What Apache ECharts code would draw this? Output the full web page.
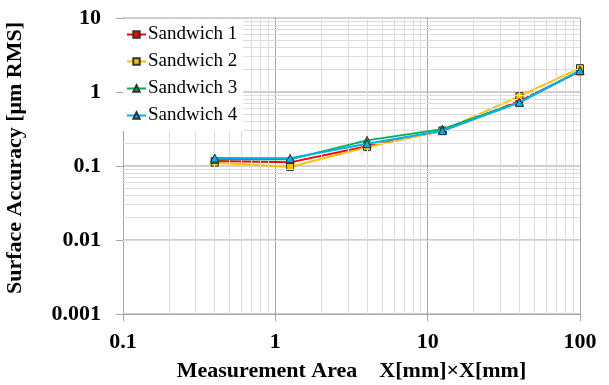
<!DOCTYPE html>
<html>
<head>
<meta charset="utf-8">
<script src="https://cdn.jsdelivr.net/npm/echarts@6/dist/echarts.min.js"></script>
<style>
  html, body { margin: 0; padding: 0; background: #ffffff; }
  #chart { width: 609px; height: 385px; }
</style>
</head>
<body>
<div id="chart"></div>
<script>
// Measurement area side length X (mm) for each measurement
const areaX = [0.4, 1.25, 4, 12.5, 40, 100];

// Surface accuracy (µm RMS) per sandwich panel
const sandwich1 = [0.117, 0.112, 0.185, 0.300, 0.75, 1.90];
const sandwich2 = [0.111, 0.097, 0.180, 0.300, 0.88, 2.10];
const sandwich3 = [0.123, 0.123, 0.222, 0.315, 0.73, 1.95];
const sandwich4 = [0.128, 0.127, 0.200, 0.300, 0.72, 1.95];

const seriesNames = ['Sandwich 1', 'Sandwich 2', 'Sandwich 3', 'Sandwich 4'];
const seriesColors = ['#FF0000', '#FFC000', '#00B050', '#00B0F0'];
const seriesSymbols = ['rect', 'rect', 'triangle', 'triangle'];

// Intermediate (minor) grid values on each log axis
const xMinor = [0.2, 0.3, 0.4, 0.5, 0.6, 0.7, 0.8, 0.9,
                2, 3, 4, 5, 6, 7, 8, 9,
                20, 30, 40, 50, 60, 70, 80, 90];
const yMinor = [0.002, 0.003, 0.004, 0.005, 0.006, 0.007, 0.008, 0.009,
                0.02, 0.03, 0.04, 0.05, 0.06, 0.07, 0.08, 0.09,
                0.2, 0.3, 0.4, 0.5, 0.6, 0.7, 0.8, 0.9,
                2, 3, 4, 5, 6, 7, 8, 9];

const serif = "'Liberation Serif', 'Times New Roman', serif";

function fmtLog(v) {
  return String(parseFloat(Number(v).toPrecision(6)));
}

const dataSets = [sandwich1, sandwich2, sandwich3, sandwich4];

const lineSeries = dataSets.map((vals, i) => ({
  name: seriesNames[i],
  type: 'line',
  z: 3 + i,
  data: areaX.map((x, k) => [x, vals[k]]),
  symbol: seriesSymbols[i],
  symbolSize: seriesSymbols[i] === 'rect' ? 7 : 8,
  showSymbol: true,
  lineStyle: { color: seriesColors[i], width: 2 },
  itemStyle: { color: seriesColors[i], borderColor: '#333333', borderWidth: 1 },
  emphasis: { disabled: true },
  animation: false
}));

const minorGrid = {
  name: 'minor-grid',
  type: 'line',
  z: 1,
  data: [[1, 1]],
  showSymbol: false,
  lineStyle: { opacity: 0 },
  silent: true,
  animation: false,
  markLine: {
    silent: true,
    symbol: 'none',
    animation: false,
    label: { show: false },
    lineStyle: { color: '#DDDDDD', type: 'solid', width: 1 },
    emphasis: { disabled: true },
    data: xMinor.map(v => ({ xAxis: v })).concat(yMinor.map(v => ({ yAxis: v })))
  }
};

const chart = echarts.init(document.getElementById('chart'), null, { renderer: 'canvas' });

chart.setOption({
  backgroundColor: '#ffffff',
  animation: false,
  grid: { left: 123, right: 29, top: 18, height: 296, containLabel: false, outerBoundsMode: 'none' },
  legend: {
    data: seriesNames,
    orient: 'vertical',
    left: 123,
    top: 19,
    z: 50,
    padding: [6, 6, 6, 3],
    itemGap: 8,
    itemWidth: 19,
    itemHeight: 8,
    backgroundColor: '#ffffff',
    textStyle: { fontFamily: serif, fontSize: 19, color: '#000000', lineHeight: 19, padding: [0, 0, 0, -3] },
    selectedMode: false
  },
  xAxis: {
    type: 'log',
    logBase: 10,
    min: 0.1,
    max: 100,
    name: 'Measurement Area\u3000X[mm]\u00d7X[mm]',
    nameLocation: 'middle',
    nameGap: 46,
    nameTextStyle: { fontFamily: serif, fontSize: 22, fontWeight: 'bold', color: '#000000' },
    axisLine: { show: true, lineStyle: { color: '#A6A6A6', width: 1 } },
    axisTick: { show: true, inside: false, length: 7, lineStyle: { color: '#A6A6A6' } },
    axisLabel: { fontFamily: serif, fontSize: 22, fontWeight: 'bold', color: '#000000', margin: 17, formatter: fmtLog },
    splitLine: { show: true, lineStyle: { color: '#A6A6A6', width: 1 } },
    minorTick: { show: false },
    minorSplitLine: { show: false }
  },
  yAxis: {
    type: 'log',
    logBase: 10,
    min: 0.001,
    max: 10,
    name: 'Surface Accuracy [\u03bcm RMS]',
    nameLocation: 'middle',
    nameGap: 97,
    nameRotate: 90,
    nameTextStyle: { fontFamily: serif, fontSize: 22, fontWeight: 'bold', color: '#000000', padding: [0, 0, 0, 16] },
    axisLine: { show: true, lineStyle: { color: '#A6A6A6', width: 1 } },
    axisTick: { show: true, inside: false, length: 7, lineStyle: { color: '#A6A6A6' } },
    axisLabel: { fontFamily: serif, fontSize: 22, fontWeight: 'bold', color: '#000000', margin: 22, formatter: fmtLog },
    splitLine: { show: true, lineStyle: { color: '#BFBFBF', width: 1.5 } },
    minorTick: { show: false },
    minorSplitLine: { show: false }
  },
  series: [minorGrid].concat(lineSeries)
});
</script>
</body>
</html>
